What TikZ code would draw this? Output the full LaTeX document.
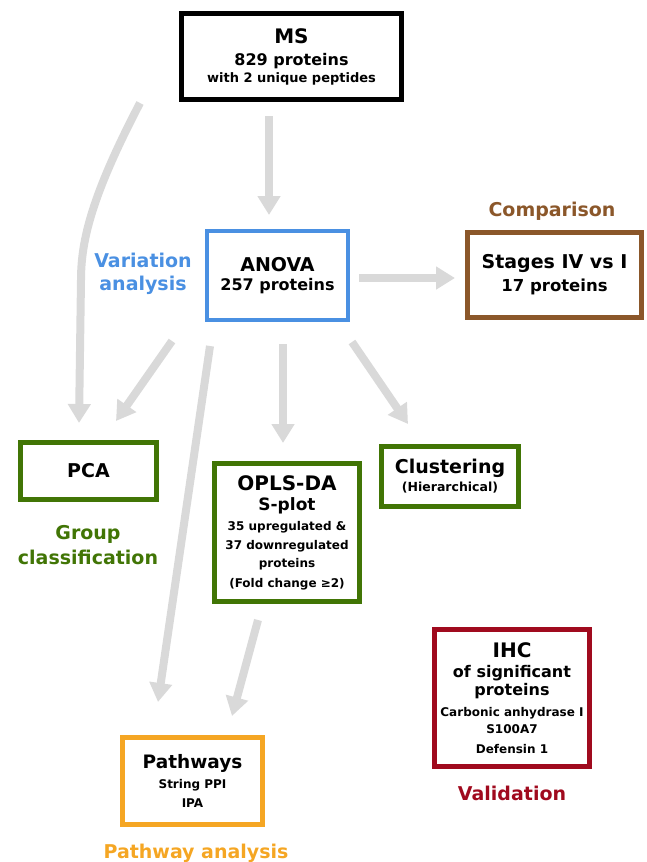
\documentclass[tikz,border=0pt]{standalone}
\usepackage{fontspec}
\setmainfont{DejaVu Sans}
\usetikzlibrary{arrows.meta,calc}

\definecolor{arrowgray}{HTML}{D9D9D9}
\definecolor{anovablue}{HTML}{4A90E2}
\definecolor{compbrown}{HTML}{8B572A}
\definecolor{groupgreen}{HTML}{417505}
\definecolor{validred}{HTML}{A00A1E}
\definecolor{pathorange}{HTML}{F5A623}

\newcommand{\fsz}[1]{\fontsize{#1}{#1}\selectfont}

\begin{document}
\begin{tikzpicture}[x=1pt,y=-1pt,
    box/.style={draw,fill=white,line width=5pt,inner sep=0pt,outer sep=0pt,
      align=center,font=\bfseries\fontsize{12}{18}\selectfont},
    tag/.style={align=center,font=\bfseries\fontsize{19}{23}\selectfont},
    flow/.style={draw=arrowgray,line width=8pt,-{Triangle[width=22pt,length=19pt]}}]
    \useasboundingbox (0,0) rectangle (646,862);

    % --- boxes ---
    \node[box,draw=black,minimum width=220pt,minimum height=86pt] (ms) at (291.5,56.5)
      {{\fsz{20}MS}\\[4pt]{\fsz{16}829 proteins}\\[-1pt]{\fsz{13}with 2 unique peptides}};
    \node[box,draw=anovablue,line width=4pt,minimum width=141pt,minimum height=89pt] (anova) at (277.5,275.5)
      {{\fsz{19}ANOVA}\\[1pt]{\fsz{16}257 proteins}};
    \node[box,draw=compbrown,minimum width=174pt,minimum height=85pt] (stages) at (554.5,275)
      {{\fsz{19}Stages IV vs I}\\[5pt]{\fsz{16.5}17 proteins}};
    \node[box,draw=groupgreen,minimum width=136pt,minimum height=57pt] (pca) at (88.5,471)
      {{\fsz{19}PCA}};
    \node[box,draw=groupgreen,minimum width=145pt,minimum height=138pt] (opls) at (287,532.5)
      {{\fsz{20}OPLS-DA}\\[2pt]{\fsz{17}S-plot}\\[2pt]35 upregulated \&\\[1pt]37 downregulated\\proteins\\[2pt](Fold change ≥2)};
    \node[box,draw=groupgreen,minimum width=137pt,minimum height=60pt] (clus) at (450,476.5)
      {{\fsz{19}Clustering}\\{\fsz{12.5}(Hierarchical)}};
    \node[box,draw=validred,minimum width=155pt,minimum height=137pt] (ihc) at (512,698)
      {{\fsz{20}IHC}\\[2pt]{\fsz{16}of significant}\\{\fsz{16}proteins}\\[3pt]Carbonic anhydrase I\\[-1pt]S100A7\\[2pt]Defensin 1};
    \node[box,draw=pathorange,minimum width=140pt,minimum height=87pt] (path) at (192.5,781)
      {{\fsz{18.5}Pathways}\\[2pt]String PPI\\[1pt]IPA};

    % --- labels ---
    \node[tag,text=compbrown] (comparison) at (552,211) {Comparison};
    \node[tag,text=anovablue] (variation) at (143,274) {Variation\\analysis};
    \node[tag,text=groupgreen,font=\bfseries\fontsize{19}{25}\selectfont] (group) at (88,545.5) {Group\\classification};
    \node[tag,text=validred] (validation) at (512,793) {Validation};
    \node[tag,text=pathorange] (pathlabel) at (196,853) {Pathway analysis};

    % --- arrows ---
    \draw[flow] ([shift={(-22.5,16.5)}]ms.south) -- ([shift={(-8.5,-16)}]anova.north);
    \draw[flow] ([shift={(-41.5,3.5)}]ms.south west) .. controls +(-48,92) and +(0,-40)
      .. ([shift={(-7.5,-162.5)}]pca.north) -- ([shift={(-9.5,-19.5)}]pca.north);
    \draw[flow] ([shift={(-35,21)}]anova.south west) -- ([shift={(27.5,-21.5)}]pca.north);
    \draw[flow] ([shift={(3,26)}]anova.south west) -- ([shift={(-34.5,-35.5)}]path.north);
    \draw[flow] ([shift={(5.5,24)}]anova.south) -- ([shift={(-4,-20.5)}]opls.north);
    \draw[flow] ([shift={(4,22)}]anova.south east) -- ([shift={(-42,-22.5)}]clus.north);
    \draw[flow] ([shift={(11,2.5)}]anova.east) -- ([shift={(-12.5,3)}]stages.west);
    \draw[flow] ([shift={(-29,18.5)}]opls.south) -- ([shift={(39.5,-21.5)}]path.north);
\end{tikzpicture}
\end{document}
